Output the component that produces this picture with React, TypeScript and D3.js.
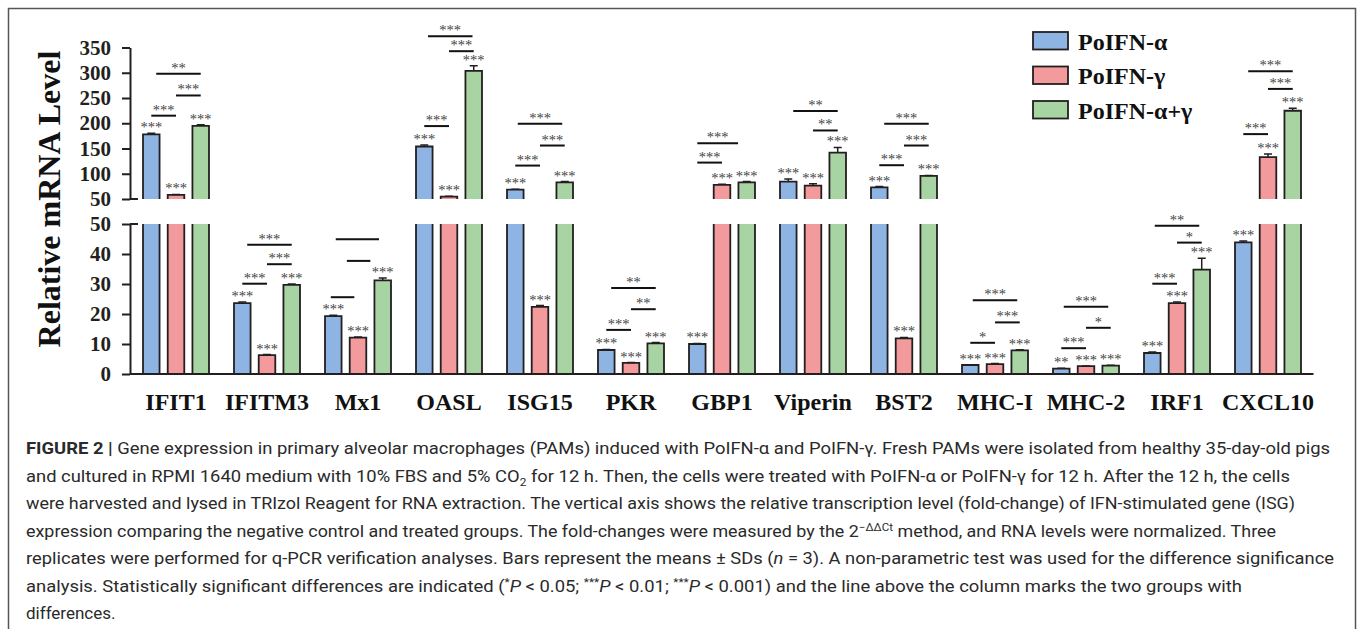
import React, { useRef, useEffect } from 'react';
import * as d3 from 'd3';

// genes on the x axis
const genes = ['IFIT1', 'IFITM3', 'Mx1', 'OASL', 'ISG15', 'PKR', 'GBP1', 'Viperin', 'BST2', 'MHC-I', 'MHC-2', 'IRF1', 'CXCL10'];
const seriesNames = ['PoIFN-α', 'PoIFN-γ', 'PoIFN-α+γ'];
const seriesColors = ['#8db4e2', '#f29a9c', '#a8d4a4'];

// relative mRNA level (means)
const alphaMeans = [178, 23.6, 19.3, 154, 68.5, 8.0, 10.0, 84.4, 73.2, 3.0, 1.8, 7.0, 43.9];
const gammaMeans = [58, 6.3, 12.1, 54.6, 22.4, 3.7, 77.8, 76.4, 11.9, 3.3, 2.6, 23.6, 132.9];
const comboMeans = [195, 29.7, 31.2, 303.7, 83.1, 10.2, 83.1, 142, 95.7, 7.9, 2.8, 34.8, 224.8];

// SDs
const alphaSd = [2, 0.4, 0.3, 3, 1, 0.2, 0.2, 5, 1.5, 0.1, 0.1, 0.3, 0.4];
const gammaSd = [1, 0.2, 0.2, 1, 0.4, 0.1, 1.5, 4, 0.3, 0.2, 0.1, 0.4, 6];
const comboSd = [2, 0.3, 0.8, 10, 1.5, 0.3, 1.5, 10, 1, 0.2, 0.1, 3.8, 5];

// significance vs control, above each bar
const alphaStars = ['***', '***', '***', '***', '***', '***', '***', '***', '***', '***', '**', '***', '***'];
const gammaStars = ['***', '***', '***', '***', '***', '***', '***', '***', '***', '***', '***', '***', '***'];
const comboStars = ['***', '***', '***', '***', '***', '***', '***', '***', '***', '***', '***', '***', '***'];

// pairwise comparison lines: gene, from bar, to bar, label, height (axis value)
const brackets: [string, number, number, string, number][] = [
  ['IFIT1', 0, 1, '***', 215],
  ['IFIT1', 1, 2, '***', 255],
  ['IFIT1', 0.2, 2, '**', 298],
  ['IFITM3', 0, 1, '***', 30.1],
  ['IFITM3', 1, 2, '***', 36.6],
  ['IFITM3', 0.2, 2, '***', 43.1],
  ['Mx1', -0.1, 0.85, '', 25.6],
  ['Mx1', 0.55, 1.5, '', 37.7],
  ['Mx1', 0.1, 1.85, '', 44.9],
  ['OASL', 0, 1, '***', 194.4],
  ['OASL', 1, 2, '***', 342.7],
  ['OASL', 0.15, 1.95, '***', 372.5],
  ['ISG15', 0, 1, '***', 116.2],
  ['ISG15', 1, 2, '***', 155.9],
  ['ISG15', 0.1, 1.9, '***', 199],
  ['PKR', 0, 1, '***', 14.7],
  ['PKR', 1, 2, '**', 21.6],
  ['PKR', 0.2, 2, '**', 28.7],
  ['GBP1', 0, 1, '***', 122.1],
  ['GBP1', 0, 1.65, '***', 160.6],
  ['Viperin', 1, 2, '**', 185.7],
  ['Viperin', 0.2, 2, '**', 224.2],
  ['BST2', 0, 1, '***', 116.9],
  ['BST2', 1, 2, '***', 155.9],
  ['BST2', 0.2, 2, '***', 199],
  ['MHC-I', 0, 1, '*', 10.4],
  ['MHC-I', 1, 2, '***', 17.2],
  ['MHC-I', 0.1, 1.9, '***', 24.6],
  ['MHC-2', 0, 1, '***', 8.6],
  ['MHC-2', 1, 2, '*', 15.4],
  ['MHC-2', 0.1, 1.9, '***', 22.4],
  ['IRF1', 0, 1, '***', 30.1],
  ['IRF1', 1, 2, '*', 43.8],
  ['IRF1', 0.1, 1.9, '**', 49.4],
  ['CXCL10', 0, 1, '***', 178.5],
  ['CXCL10', 1, 2, '***', 268],
  ['CXCL10', 0.2, 2, '***', 303],
];

const upperTicks = [50, 100, 150, 200, 250, 300, 350];
const lowerTicks = [0, 10, 20, 30, 40, 50];

type Seg = { t: string; b?: boolean; i?: boolean; sup?: boolean; sub?: boolean };
const captionLines: Seg[][] = [
  [{ t: 'FIGURE 2 | ', b: true }, { t: 'Gene expression in primary alveolar macrophages (PAMs) induced with PoIFN-α and PoIFN-γ. Fresh PAMs were isolated from healthy 35-day-old pigs' }],
  [{ t: 'and cultured in RPMI 1640 medium with 10% FBS and 5% CO' }, { t: '2', sub: true }, { t: ' for 12 h. Then, the cells were treated with PoIFN-α or PoIFN-γ for 12 h. After the 12 h, the cells' }],
  [{ t: 'were harvested and lysed in TRIzol Reagent for RNA extraction. The vertical axis shows the relative transcription level (fold-change) of IFN-stimulated gene (ISG)' }],
  [{ t: 'expression comparing the negative control and treated groups. The fold-changes were measured by the 2' }, { t: '−ΔΔCt', sup: true }, { t: ' method, and RNA levels were normalized. Three' }],
  [{ t: 'replicates were performed for q-PCR verification analyses. Bars represent the means ± SDs (' }, { t: 'n', i: true }, { t: ' = 3). A non-parametric test was used for the difference significance' }],
  [{ t: 'analysis. Statistically significant differences are indicated (' }, { t: '*', sup: true }, { t: 'P', i: true }, { t: ' < 0.05; ' }, { t: '***', sup: true }, { t: 'P', i: true }, { t: ' < 0.01; ' }, { t: '***', sup: true }, { t: 'P', i: true }, { t: ' < 0.001) and the line above the column marks the two groups with' }],
  [{ t: 'differences.' }],
];
const captionWidths = [1304, 1264, 1269, 1250, 1308, 1216, 0];

export default function App() {
  const svgRef = useRef<SVGSVGElement>(null);

  useEffect(() => {
    if (!svgRef.current) return;
    const svg = d3.select(svgRef.current);
    svg.selectAll('*').remove();

    const serif = '"Liberation Serif", "Times New Roman", serif';
    const ink = '#231f20';

    // figure frame
    svg.append('rect')
      .attr('x', 8.5).attr('y', 8.5).attr('width', 1347).attr('height', 640)
      .attr('fill', 'none').attr('stroke', '#555').attr('stroke-width', 1.5);

    const x0 = d3.scaleBand<string>().domain(genes).range([130.5, 1313.5]);
    const x1 = d3.scaleBand<string>().domain(seriesNames).range([12.5, 78.5]).paddingInner(0.33);
    const yLow = d3.scaleLinear().domain([0, 50]).range([374, 224]);
    const yHigh = d3.scaleLinear().domain([50, 350]).range([199, 47.5]);
    const color = d3.scaleOrdinal<string>().domain(seriesNames).range(seriesColors);
    const bw = x1.bandwidth();
    const step = x1.step();

    const means = [alphaMeans, gammaMeans, comboMeans];
    const sds = [alphaSd, gammaSd, comboSd];
    const stars = [alphaStars, gammaStars, comboStars];

    const rows = genes.flatMap((g, i) => seriesNames.map((s, k) => ({
      gene: g, series: s, value: means[k][i], sd: sds[k][i], star: stars[k][i],
    })));

    const g = svg.append('g');

    rows.forEach(d => {
      const bx = x0(d.gene)! + x1(d.series)!;
      const cx = bx + bw / 2;
      const high = d.value > 50;
      const lowTop = yLow(Math.min(d.value, 50));
      g.append('rect').attr('x', bx).attr('y', lowTop).attr('width', bw).attr('height', yLow(0) - lowTop)
        .attr('fill', color(d.series));
      g.append('path')
        .attr('d', high
          ? `M${bx},${yLow(0)}V${yLow(50)}M${bx + bw},${yLow(50)}V${yLow(0)}`
          : `M${bx},${yLow(0)}V${lowTop}H${bx + bw}V${yLow(0)}`)
        .attr('fill', 'none').attr('stroke', ink).attr('stroke-width', 1.8);
      const seg = high ? yHigh : yLow;
      if (high) {
        const top = yHigh(d.value);
        g.append('rect').attr('x', bx).attr('y', top).attr('width', bw).attr('height', yHigh(50) - top)
          .attr('fill', color(d.series));
        g.append('path')
          .attr('d', `M${bx},${yHigh(50)}V${top}H${bx + bw}V${yHigh(50)}`)
          .attr('fill', 'none').attr('stroke', ink).attr('stroke-width', 1.8);
      }
      // error bar
      const eTop = seg(d.value + d.sd);
      g.append('path')
        .attr('d', `M${cx},${seg(d.value)}V${eTop}M${cx - 4},${eTop}H${cx + 4}`)
        .attr('stroke', ink).attr('stroke-width', 1.5).attr('fill', 'none');
      g.append('text')
        .attr('x', cx).attr('y', eTop - 1)
        .attr('text-anchor', 'middle')
        .attr('font-family', serif).attr('font-size', 14.5).attr('fill', '#444')
        .text(d.star);
    });

    // comparison lines
    brackets.forEach(([gene, a, b, label, v]) => {
      const base = x0(gene)! + x1(seriesNames[0])! + bw / 2;
      const xa = base + a * step;
      const xb = base + b * step;
      const y = v > 50 ? yHigh(v) : yLow(v);
      g.append('line').attr('x1', xa).attr('x2', xb).attr('y1', y).attr('y2', y)
        .attr('stroke', '#111').attr('stroke-width', 2);
      if (label) {
        g.append('text')
          .attr('x', (xa + xb) / 2).attr('y', y - 1)
          .attr('text-anchor', 'middle')
          .attr('font-family', serif).attr('font-size', 14.5).attr('fill', '#444')
          .text(label);
      }
    });

    // axes
    const styleAxis = (sel: d3.Selection<SVGGElement, unknown, null, undefined>) => {
      sel.style('color', ink)
        .attr('font-family', serif).attr('font-size', 21).attr('font-weight', 'bold');
      sel.selectAll('path, line').attr('stroke-width', 2);
    };
    const upperAxis = svg.append('g').attr('transform', 'translate(130,0)')
      .call(d3.axisLeft(yHigh).tickValues(upperTicks).tickSize(8).tickSizeOuter(0).tickPadding(11).tickFormat(d3.format('d')));
    styleAxis(upperAxis as any);
    const lowerAxis = svg.append('g').attr('transform', 'translate(130,0)')
      .call(d3.axisLeft(yLow).tickValues(lowerTicks).tickSize(8).tickSizeOuter(0).tickPadding(11).tickFormat(d3.format('d')));
    styleAxis(lowerAxis as any);

    // break marks at 50
    [yHigh(50), yLow(50)].forEach(y => {
      svg.append('line').attr('x1', 130).attr('x2', 138).attr('y1', y).attr('y2', y)
        .attr('stroke', ink).attr('stroke-width', 2);
    });

    // x axis baseline
    svg.append('line').attr('x1', 130).attr('x2', 1313.5).attr('y1', yLow(0)).attr('y2', yLow(0))
      .attr('stroke', ink).attr('stroke-width', 2);

    // category labels
    svg.append('g').selectAll('text').data(genes).enter().append('text')
      .attr('x', d => x0(d)! + x0.bandwidth() / 2)
      .attr('y', 410)
      .attr('text-anchor', 'middle')
      .attr('font-family', serif).attr('font-size', 24).attr('font-weight', 'bold').attr('fill', '#111')
      .text(d => d);

    // y title
    svg.append('text')
      .attr('transform', 'translate(60,199) rotate(-90)')
      .attr('text-anchor', 'middle')
      .attr('font-family', serif).attr('font-size', 32).attr('font-weight', 'bold').attr('fill', '#111')
      .text('Relative mRNA Level');

    // legend
    const legend = svg.append('g').attr('transform', 'translate(1033,32)');
    seriesNames.forEach((s, i) => {
      const row = legend.append('g').attr('transform', `translate(0,${i * 34.5})`);
      row.append('rect').attr('width', 35).attr('height', 17.5)
        .attr('fill', color(s)).attr('stroke', ink).attr('stroke-width', 1.8);
      row.append('text').attr('x', 45).attr('y', 17.5)
        .attr('font-family', serif).attr('font-size', 24).attr('font-weight', 'bold').attr('fill', '#111')
        .text(s);
    });

    // caption
    const cap = svg.append('g')
      .attr('font-family', '"Liberation Sans Narrow", Roboto, "Liberation Sans", sans-serif')
      .attr('font-size', 17).attr('fill', '#2a2a2a');
    captionLines.forEach((segs, li) => {
      const t = cap.append('text').attr('x', 26).attr('y', 454 + li * 27.5);
      if (captionWidths[li]) t.attr('textLength', captionWidths[li]).attr('lengthAdjust', 'spacingAndGlyphs');
      let shift = 0;
      segs.forEach(sg => {
        const want = sg.sup ? -6 : sg.sub ? 4 : 0;
        const ts = t.append('tspan').attr('dy', want - shift).text(sg.t);
        shift = want;
        if (sg.b) ts.attr('font-weight', 'bold');
        if (sg.i) ts.attr('font-style', 'italic');
        if (sg.sup || sg.sub) ts.attr('font-size', 11);
      });
    });
  }, []);

  return (
    <svg
      ref={svgRef}
      width={1358}
      height={629}
      style={{ position: 'absolute', left: 0, top: 0, background: '#fff' }}
    />
  );
}
